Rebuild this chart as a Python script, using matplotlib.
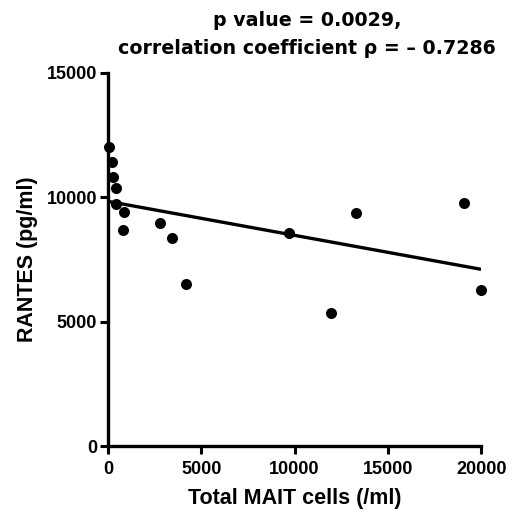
import numpy as np
import matplotlib.pyplot as plt

# MAIT cell counts vs RANTES levels
mait_cells = [50, 200, 270, 410, 450, 880, 800, 2800, 3410, 4200, 9690, 11940, 13300, 19100, 20000]
rantes = [12010, 11430, 10800, 10380, 9730, 9390, 8670, 8950, 8360, 6510, 8550, 5350, 9380, 9780, 6270]

x_ticks = [0, 5000, 10000, 15000, 20000]
y_ticks = [0, 5000, 10000, 15000]

fig = plt.figure(figsize=(5.27, 5.13), dpi=100)
ax = fig.add_axes([0.205, 0.1306, 0.708, 0.7274])

ax.scatter(mait_cells, rantes, s=48, color='black', zorder=3, clip_on=False)

# linear regression line across the data range
slope, intercept = np.polyfit(mait_cells, rantes, 1)
xs = np.array([0, max(mait_cells)])
ax.plot(xs, slope * xs + intercept, color='black', lw=2.4, solid_capstyle='butt', zorder=2)

ax.set_xlim(0, 20000)
ax.set_ylim(0, 15000)
ax.set_xticks(x_ticks)
ax.set_yticks(y_ticks)

for side in ['top', 'right']:
    ax.spines[side].set_visible(False)
for side in ['left', 'bottom']:
    ax.spines[side].set_linewidth(2.4)
ax.tick_params(width=2.2, length=6, labelsize=13)
ax.tick_params(axis='x', pad=5)
ax.tick_params(axis='y', pad=2)
for lbl in ax.get_xticklabels() + ax.get_yticklabels():
    lbl.set_fontweight('bold')
    lbl.set_fontfamily('Liberation Sans')

ax.set_xlabel('Total MAIT cells (/ml)', fontsize=15.5, fontweight='bold', family='Liberation Sans', labelpad=7)
ax.set_ylabel('RANTES (pg/ml)', fontsize=15.5, fontweight='bold', family='Liberation Sans', labelpad=6)

fig.text(307 / 527, 1 - 21 / 513, 'p value = 0.0029,', ha='center', va='center',
         fontsize=13.7, fontweight='bold', family='DejaVu Sans')
fig.text(307 / 527, 1 - 49 / 513, 'correlation coefficient \u03c1 = \u2013 0.7286', ha='center', va='center',
         fontsize=13.7, fontweight='bold', family='DejaVu Sans')

fig.savefig('out.png', dpi=100)
